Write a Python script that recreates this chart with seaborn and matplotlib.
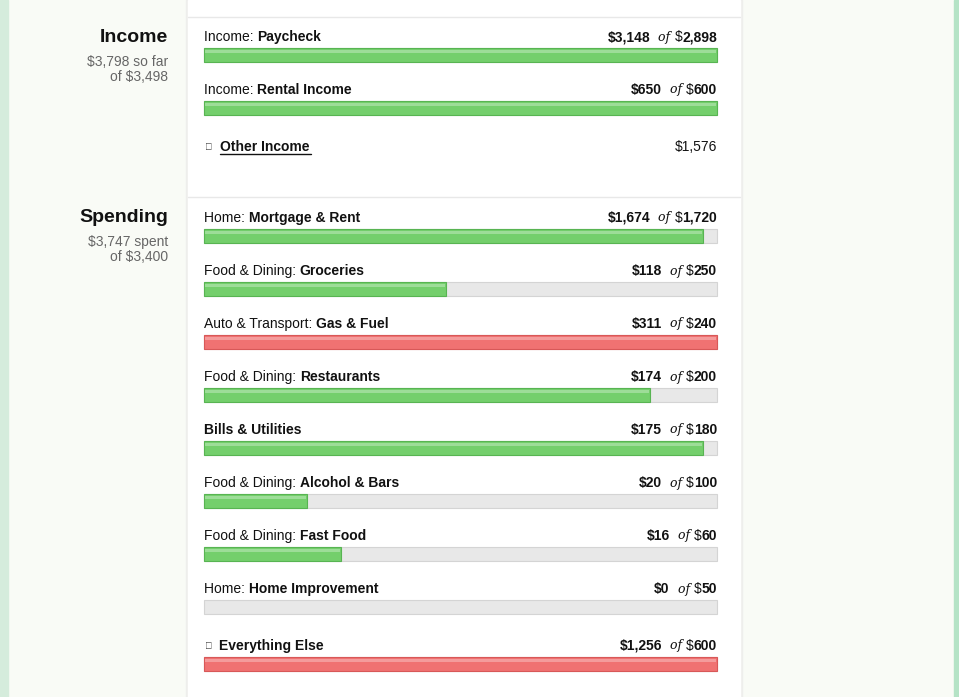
import matplotlib
matplotlib.use('Agg')
import matplotlib.pyplot as plt
import seaborn as sns
from matplotlib.patches import Rectangle

sns.set_theme(style='white', font='Liberation Sans')

# data
income_groups = ['Income', 'Income']
income_names = ['Paycheck', 'Rental Income']
income_actual = [3148, 650]
income_budget = [2898, 600]
other_income = 1576

spend_groups = ['Home', 'Food & Dining', 'Auto & Transport', 'Food & Dining', '',
                'Food & Dining', 'Food & Dining', 'Home', '']
spend_names = ['Mortgage & Rent', 'Groceries', 'Gas & Fuel', 'Restaurants', 'Bills & Utilities',
               'Alcohol & Bars', 'Fast Food', 'Home Improvement', 'Everything Else']
spend_actual = [1674, 118, 311, 174, 175, 20, 16, 0, 1256]
spend_budget = [1720, 250, 240, 200, 180, 100, 60, 50, 600]

W, H = 959, 697
fig = plt.figure(figsize=(W / 100, H / 100), dpi=100)
fig.patch.set_facecolor('#f9fbf6')
ax = fig.add_axes([0, 0, 1, 1])
ax.set_xlim(0, W)
ax.set_ylim(H, 0)
ax.axis('off')

# page decoration
ax.add_patch(Rectangle((0, 0), 8, H, color='#d5ecdc', zorder=0))
ax.add_patch(Rectangle((954, 0), 5, H, color='#b5e3c6', zorder=0))
ax.add_patch(Rectangle((186, 0), 556, H, color='#eeeeec', zorder=0))
ax.add_patch(Rectangle((188, 0), 552, H, color='white', zorder=0))
for yl in [17, 197]:
    ax.plot([188, 740], [yl, yl], color='#e8e8e8', lw=1, zorder=1)

X0, X1 = 204, 717
BH = 14
GREEN, GREEN_E = '#74cf6c', '#58b452'
RED, RED_E = '#f07272', '#d85858'
fs = 10


def money(v):
    return f'${v:,}'


renderer = fig.canvas.get_renderer()


def right_chain(y, parts):
    # parts drawn right-to-left ending at X1
    x = X1
    inv = ax.transData.inverted()
    for txt, kw in reversed(parts):
        opts = dict(ha='right', va='center', fontsize=fs, color='#111111')
        opts.update(kw)
        t = ax.text(x, y, txt, **opts)
        bb = t.get_window_extent(renderer)
        x = inv.transform((bb.x0, 0))[0]


def draw_row(top, group, name, actual, budget, expand=False):
    ly = top - 11
    x = X0
    if expand:
        ax.text(X0 + 1, ly, '\u25b6', ha='left', va='center', fontsize=7, color='#333333')
        x = X0 + 15
    if group:
        t = ax.text(x, ly, group + ': ', ha='left', va='center', fontsize=fs, color='#111111')
        bb = t.get_window_extent(renderer)
        x = ax.transData.inverted().transform((bb.x1, 0))[0]
    ax.text(x, ly, name, ha='left', va='center', fontsize=fs, fontweight='bold', color='#111111')
    right_chain(ly, [(money(actual), dict(fontweight='bold')),
                     ('  of ', dict(family='DejaVu Serif', style='italic', fontsize=9)),
                     ('$', {}),
                     (f'{budget:,}', dict(fontweight='bold'))])
    frac = min(actual / budget, 1)
    over = actual > budget and group != 'Income'
    c, e = (RED, RED_E) if over else (GREEN, GREEN_E)
    ax.barh([top + BH / 2], [X1 - X0], left=X0, height=BH, color='#e8e8e8',
            edgecolor='#d4d4d4', lw=0.8, zorder=2)
    if frac > 0:
        ax.barh([top + BH / 2], [frac * (X1 - X0)], left=X0, height=BH, color=c,
                edgecolor=e, lw=0.8, zorder=3)
        ax.barh([top + 3.5], [frac * (X1 - X0) - 2], left=X0 + 1, height=3,
                color='white', alpha=0.3, lw=0, zorder=4)


# income section
ax.text(168, 38, 'Income', ha='right', va='center', fontsize=14, fontweight='bold', color='#111111')
ax.text(168, 62, '$3,798 so far', ha='right', va='center', fontsize=10, color='#666666')
ax.text(168, 77, 'of $3,498', ha='right', va='center', fontsize=10, color='#666666')
for i, (g, n, a, b) in enumerate(zip(income_groups, income_names, income_actual, income_budget)):
    draw_row(48 + 53 * i, g, n, a, b)
ax.text(X0 + 1, 147, '\u25b6', ha='left', va='center', fontsize=7, color='#333333')
ax.text(X0 + 16, 147, 'Other Income', ha='left', va='center', fontsize=fs, fontweight='bold',
        color='#111111')
ax.plot([X0 + 16, 311], [154, 154], color='#111111', lw=1)
ax.text(X1, 147, money(other_income), ha='right', va='center', fontsize=fs, color='#111111')

# spending section
ax.text(168, 218, 'Spending', ha='right', va='center', fontsize=14, fontweight='bold', color='#111111')
ax.text(168, 242, '$3,747 spent', ha='right', va='center', fontsize=10, color='#666666')
ax.text(168, 257, 'of $3,400', ha='right', va='center', fontsize=10, color='#666666')
for i, (g, n, a, b) in enumerate(zip(spend_groups, spend_names, spend_actual, spend_budget)):
    top = 229 + 53 * i + (4 if i == len(spend_names) - 1 else 0)
    draw_row(top, g, n, a, b, expand=(n == 'Everything Else'))

fig.savefig('out.png', dpi=100, facecolor=fig.get_facecolor())
